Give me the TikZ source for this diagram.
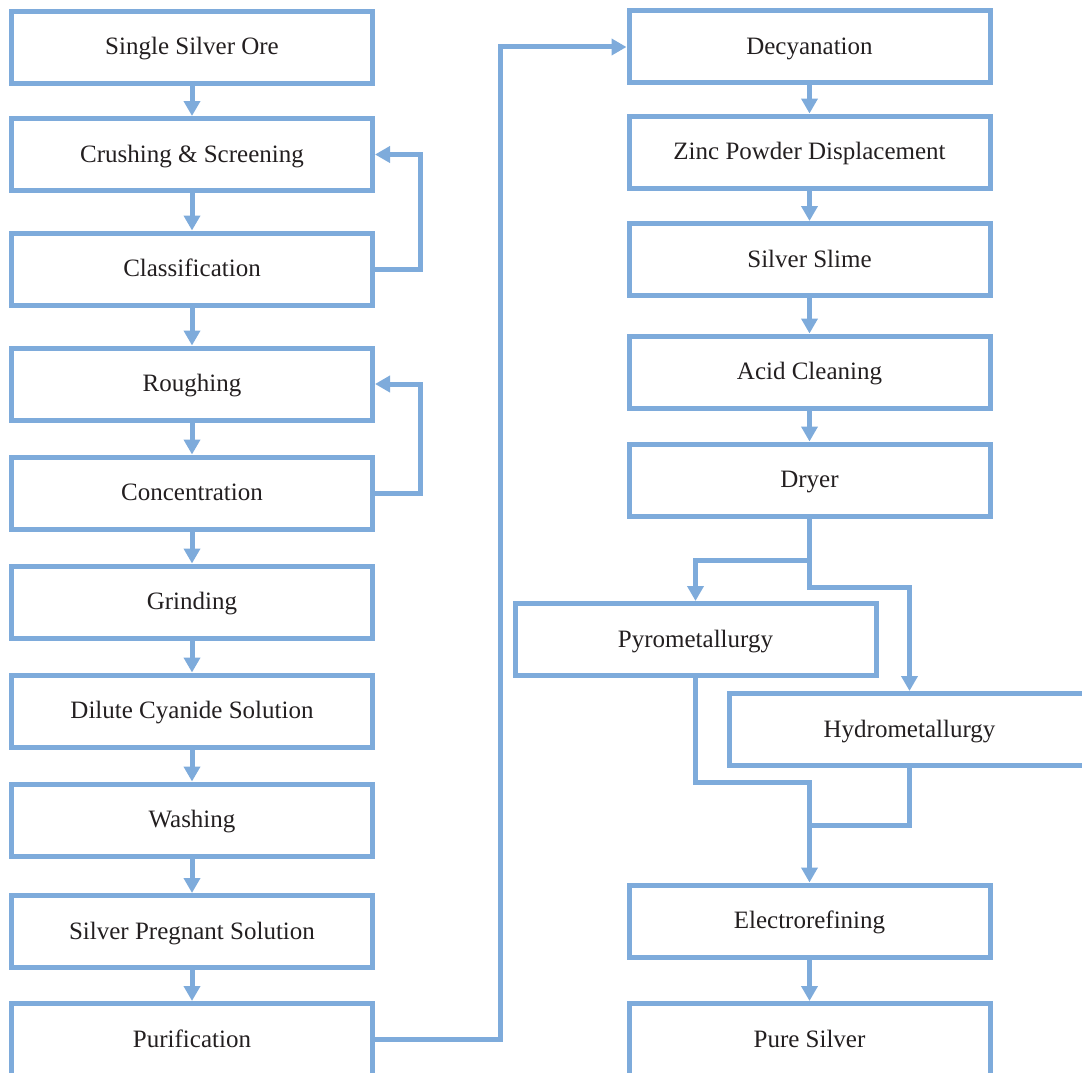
\documentclass[tikz,border=0pt]{standalone}
\usepackage{fontspec}
\setmainfont{Liberation Serif}
\usetikzlibrary{arrows.meta}
\definecolor{flowblue}{RGB}{126,171,219}
\definecolor{ink}{RGB}{35,31,32}
\begin{document}
\begin{tikzpicture}[x=1pt,y=-1pt,
	box/.style={draw=flowblue,line width=5pt,minimum width=361pt,minimum height=72pt,inner sep=0pt,text height=20pt,text depth=5pt,text=ink,font=\fontsize{25}{30}\selectfont},
	link/.style={draw=flowblue,line width=5pt},
	arr/.style={link,-{Triangle[width=16pt,length=15pt]}}]
		\useasboundingbox(0,0) rectangle (1082,1073);
		\clip(0,0) rectangle (1082,1073);
		% left column
		\node[box](ore) at (192,47.5){Single Silver Ore};
		\node[box](crush) at (192,154.5){Crushing \& Screening};
		\node[box](classif) at (192,269){Classification};
		\node[box](rough) at (192,384){Roughing};
		\node[box](conc) at (192,493){Concentration};
		\node[box](grind) at (192,602){Grinding};
		\node[box](cyan) at (192,711){Dilute Cyanide Solution};
		\node[box](wash) at (192,820){Washing};
		\node[box](preg) at (192,931.5){Silver Pregnant Solution};
		\node[box](purif) at (192,1039.5){Purification};
		% right column
		\node[box](decyan) at (809.5,47){Decyanation};
		\node[box](zinc) at (809.5,152){Zinc Powder Displacement};
		\node[box](slime) at (809.5,259.5){Silver Slime};
		\node[box](acid) at (809.5,372){Acid Cleaning};
		\node[box](dryer) at (809.5,480){Dryer};
		\node[box](pyro) at (695.5,639.5){Pyrometallurgy};
		\node[box](hydro) at (909.5,729.5){Hydrometallurgy};
		\node[box](electro) at (809.5,921){Electrorefining};
		\node[box](pure) at (809.5,1039.5){Pure Silver};
		% straight arrows
		\foreach \a/\b in {ore/crush,crush/classif,classif/rough,rough/conc,conc/grind,grind/cyan,cyan/wash,wash/preg,preg/purif,decyan/zinc,zinc/slime,slime/acid,acid/dryer,electro/pure}
			\draw[arr](\a.south)--(\b.north);
		% loops back
		\draw[arr](classif.east)--++(45,0)|-(crush.east);
		\draw[arr](conc.east)--++(45,0)|-(rough.east);
		\draw[arr](purif.east)--++(125,0)|-(decyan.west);
		% split after the dryer
		\coordinate(split) at (809.5,560);
		\draw[arr](dryer.south)--(809.5,587)-|(hydro.north);
		\draw[arr](split)-|(pyro.north);
		% joining again
		\coordinate(join) at (809.5,825);
		\draw[arr](pyro.south)|-(809.5,782)--(electro.north);
		\draw[link](hydro.south)|-(join);
	    \end{tikzpicture}
\end{document}
